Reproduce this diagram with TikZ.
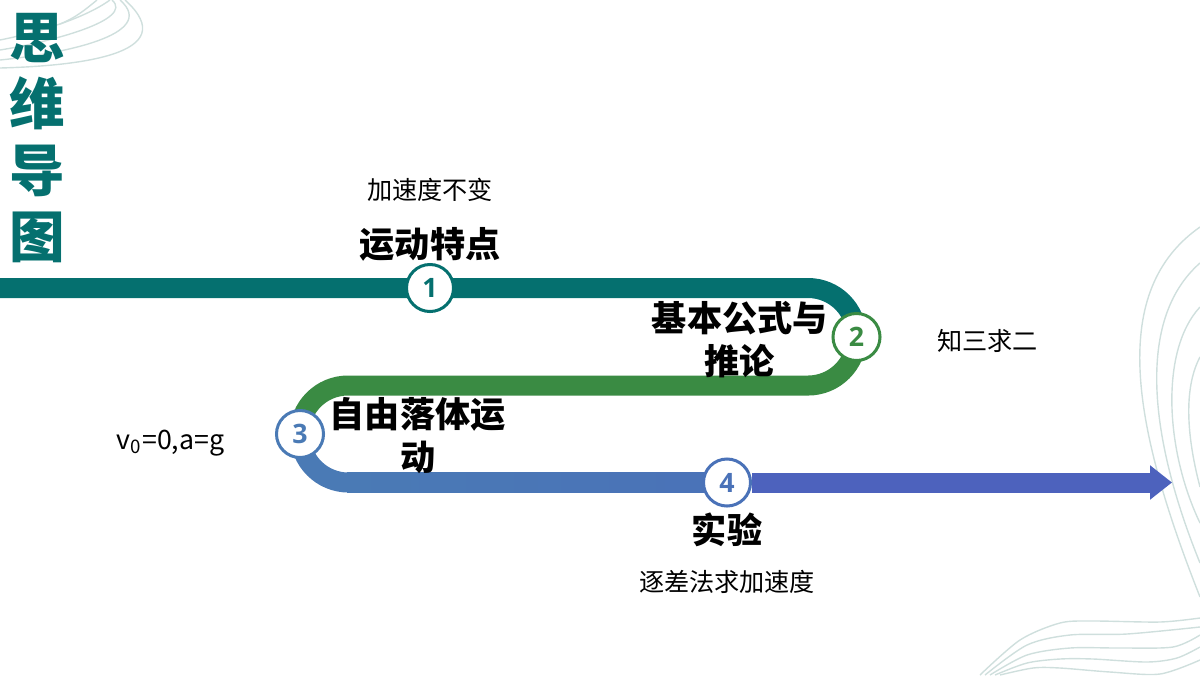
\documentclass[tikz,border=0pt]{standalone}
\usepackage{fontspec}
\setmainfont{Noto Sans CJK SC}
\newfontfamily\numfont{Open Sans}
\usetikzlibrary{arrows.meta, positioning, calc, backgrounds}
\definecolor{tealband}{HTML}{05706F}
\definecolor{greenband}{HTML}{3A8B43}
\definecolor{blueband}{HTML}{4A7AB5}
\definecolor{midband}{HTML}{4A72B8}
\definecolor{indigoband}{HTML}{4D62BD}
\definecolor{decoline}{HTML}{CFDFDD}

\begin{document}
\begin{tikzpicture}[
  x=0.01cm, y=-0.01cm,
  node distance=0.1cm,
  stepnode/.style={
    circle, draw, fill=white, line width=0.03cm, inner sep=0pt,
    minimum size=0.47cm, font=\numfont\fontsize{7.6}{10}\selectfont\bfseries
  },
  band/.style={line width=0.2cm},
  heading/.style={font=\fontsize{10}{12.2}\selectfont\bfseries, align=center, inner sep=0pt, text=black},
  note/.style={font=\fontsize{7.15}{9}\selectfont, inner sep=0pt, text=black},
  deco/.style={decoline, line width=0.014cm},
]
\useasboundingbox (0,0) rectangle (1200,675);

% ---- Title ----
\node[font=\fontsize{15.8}{18.9}\selectfont\bfseries, text=tealband, align=center, inner sep=0pt] (title)
  at (37.5,138) {思\\维\\导\\图};

% ---- Step circles ----
\node[stepnode, draw=tealband, text=tealband] (n1) at (430,288) {1};
\node[stepnode, draw=greenband, text=greenband] (n2) at (856.5,337) {2};
\node[stepnode, draw=blueband, text=blueband] (n3) at (300,434) {3};
\node[stepnode, draw=midband, text=midband] (n4) at (727,482.5) {4};

% ---- Headings ----
\node[heading, above=0.01cm of n1] (head1) {运动特点};
\node[heading, left=0.03cm of n2, yshift=-0.03cm] (head2) {基本公式与\\推论};
\node[heading, right=0.04cm of n3, yshift=-0.015cm] (head3) {自由落体运\\动};
\node[heading, below=0.05cm of n4] (head4) {实验};

% ---- Notes ----
\node[note, above=0.24cm of head1] (note1) {加速度不变};
\node[note, right=0.55cm of n2, yshift=-0.04cm] (note2) {知三求二};
\node[note, left=0.5cm of n3, yshift=-0.09cm, font=\fontsize{7.6}{9}\selectfont] (note3) {v\textsubscript{0}=0,a=g};
\node[note, below=0.22cm of head4] (note4) {逐差法求加速度};

% Band end points
\coordinate (start) at (0,288);
\coordinate (bendA) at (808,288);
\coordinate (bendC) at (348,385.5);
\coordinate (bendD) at (348,482.5);
\coordinate (tip) at (1172,482.5);

\begin{scope}[on background layer]
% Decoration, top left
\draw[deco] (0,68) .. controls (75,66) and (186,55) .. (125,0);
\draw[deco] (0,60) .. controls (60,54) and (160,35) .. (120,0);
\draw[deco] (0,50) .. controls (50,42) and (135,20) .. (112,0);
\draw[deco] (0,40) .. controls (40,32) and (85,18) .. (110,0);
\draw[deco] (60,24) .. controls (75,18) and (85,10) .. (97,0);

% Decoration, right
\draw[deco] (1200,227) .. controls (1110,290) and (1130,420) .. (1200,597);
\draw[deco] (1200,263) .. controls (1135,320) and (1150,440) .. (1200,563);
\draw[deco] (1200,307) .. controls (1160,350) and (1165,450) .. (1200,523);
\draw[deco] (1200,357) .. controls (1185,385) and (1185,430) .. (1200,487);

% Decoration, bottom right
\draw[deco] plot[smooth] coordinates {(980,675) (1020,640) (1060,623) (1093,621) (1160,622) (1200,618)};
\draw[deco] plot[smooth] coordinates {(985,675) (1027,645) (1070,635) (1127,634) (1200,627)};
\draw[deco] plot[smooth] coordinates {(990,675) (1027,655) (1070,648) (1120,648) (1173,647) (1200,635)};
\draw[deco] plot[smooth] coordinates {(995,675) (1027,663) (1060,659) (1093,659) (1147,662) (1177,658) (1200,647)};
\draw[deco] plot[smooth] coordinates {(1000,675) (1033,668) (1060,668) (1110,672) (1160,674) (1200,660)};

% ---- Bands ----
\draw[band, tealband] (start) -- (bendA) arc[start angle=90, end angle=0, radius=0.485cm];
\draw[band, greenband] (n2.center) arc[start angle=0, end angle=-90, radius=0.485cm]
  -- (bendC) arc[start angle=90, end angle=180, radius=0.485cm];
\draw[band, blueband] (n3.center) arc[start angle=180, end angle=270, radius=0.485cm];
\shade[left color=blueband, right color=midband] ($(bendD)+(-1,-10)$) rectangle ($(n4)+(0,10)$);
\draw[band, indigoband, -{Triangle[length=0.22cm, width=0.33cm]}] (n4) -- (tip);
\end{scope}

\end{tikzpicture}
\end{document}
